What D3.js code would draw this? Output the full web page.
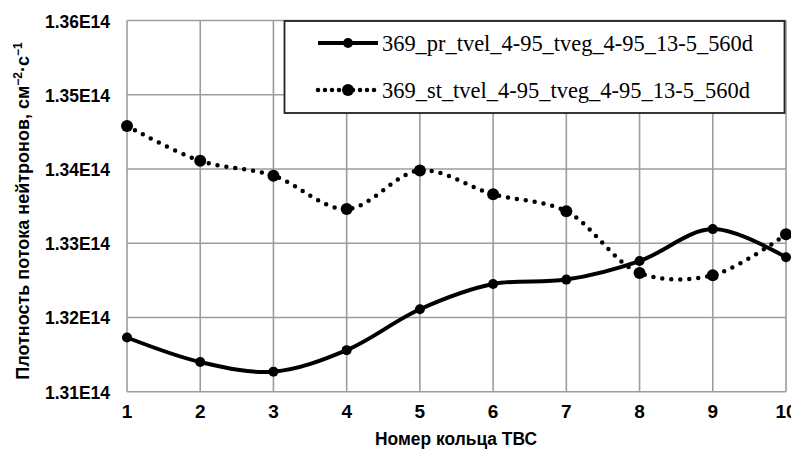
<!DOCTYPE html>
<html>
<head>
<meta charset="utf-8">
<style>
    body { margin: 0; background-color: #fff; }
    svg { display: block; background-color: #fff; }
    .tick-lbl { font-family: "Liberation Sans", Arial, sans-serif; font-weight: bold; font-size: 19px; fill: #000; }
    .ax-title { font-family: "Liberation Sans", Arial, sans-serif; font-weight: bold; font-size: 18px; fill: #000; }
    .leg-txt { font-family: "Liberation Serif", "Times New Roman", serif; font-size: 23px; fill: #000; }
</style>
<script src="https://cdnjs.cloudflare.com/ajax/libs/d3/7.8.5/d3.min.js"></script>
</head>
<body>
<svg id="chart" width="791" height="449"></svg>
<script>
    // ring numbers
    var rings = [1, 2, 3, 4, 5, 6, 7, 8, 9, 10];
    // flux density, units of 1E14
    var prValues = [1.3173, 1.3140, 1.3127, 1.3156, 1.3211, 1.3245, 1.3251, 1.3276, 1.3319, 1.3281];
    var stValues = [1.3458, 1.3411, 1.3391, 1.3346, 1.3398, 1.3366, 1.3343, 1.3260, 1.3257, 1.3312];
    var seriesNames = ["369_pr_tvel_4-95_tveg_4-95_13-5_560d", "369_st_tvel_4-95_tveg_4-95_13-5_560d"];
    var yTicks = [1.31, 1.32, 1.33, 1.34, 1.35, 1.36];
    var yTickLabels = ["1.31E14", "1.32E14", "1.33E14", "1.34E14", "1.35E14", "1.36E14"];

    var svg = d3.select("#chart");

    var x = d3.scaleLinear().domain([1, 10]).range([127, 786]);
    var y = d3.scaleLinear().domain([1.31, 1.36]).range([391.7, 20.5]);

    var gridColor = "#9d9d9d";

    // gridlines
    svg.append("g").selectAll("line.h").data(yTicks).enter().append("line")
        .attr("x1", x(1)).attr("x2", x(10))
        .attr("y1", function (d) { return y(d); })
        .attr("y2", function (d) { return y(d); })
        .attr("stroke", gridColor).attr("stroke-width", 1.6);
    svg.append("g").selectAll("line.v").data(rings).enter().append("line")
        .attr("y1", y(1.31)).attr("y2", y(1.36))
        .attr("x1", function (d) { return x(d); })
        .attr("x2", function (d) { return x(d); })
        .attr("stroke", gridColor).attr("stroke-width", 1.6);

    // tick labels
    svg.append("g").selectAll("text").data(yTicks).enter().append("text")
        .attr("class", "tick-lbl")
        .attr("x", 110)
        .attr("y", function (d) { return y(d) + 7; })
        .attr("text-anchor", "end")
        .attr("textLength", 65)
        .attr("lengthAdjust", "spacingAndGlyphs")
        .text(function (d, i) { return yTickLabels[i]; });
    svg.append("g").selectAll("text").data(rings).enter().append("text")
        .attr("class", "tick-lbl")
        .attr("x", function (d) { return x(d); })
        .attr("y", 418)
        .attr("text-anchor", "middle")
        .text(function (d) { return d; });

    // axis titles
    svg.append("text").attr("class", "ax-title")
        .attr("x", 456).attr("y", 445)
        .attr("text-anchor", "middle")
        .attr("textLength", 162)
        .attr("lengthAdjust", "spacingAndGlyphs")
        .text("Номер кольца ТВС");

    var yt = svg.append("text").attr("class", "ax-title")
        .attr("transform", "translate(29,211) rotate(-90)")
        .attr("text-anchor", "middle");
    yt.append("tspan").text("Плотность потока нейтронов, см");
    yt.append("tspan").attr("dy", -7).attr("font-size", 12).text("−2");
    yt.append("tspan").attr("dy", 7).text("·с");
    yt.append("tspan").attr("dy", -7).attr("font-size", 12).text("−1");

    // lines
    var line = d3.line()
        .x(function (d, i) { return x(rings[i]); })
        .y(function (d) { return y(d); })
        .curve(d3.curveCatmullRom.alpha(0.5));

    svg.append("path").datum(stValues)
        .attr("d", line)
        .attr("fill", "none").attr("stroke", "#000")
        .attr("stroke-width", 4.5)
        .attr("stroke-linecap", "round")
        .attr("stroke-dasharray", "0 9");
    svg.append("g").selectAll("circle").data(stValues).enter().append("circle")
        .attr("cx", function (d, i) { return x(rings[i]); })
        .attr("cy", function (d) { return y(d); })
        .attr("r", 6).attr("fill", "#000");

    svg.append("path").datum(prValues)
        .attr("d", line)
        .attr("fill", "none").attr("stroke", "#000")
        .attr("stroke-width", 4);
    svg.append("g").selectAll("circle").data(prValues).enter().append("circle")
        .attr("cx", function (d, i) { return x(rings[i]); })
        .attr("cy", function (d) { return y(d); })
        .attr("r", 5).attr("fill", "#000");

    // legend
    var leg = svg.append("g");
    leg.append("rect")
        .attr("x", 284.5).attr("y", 21).attr("width", 500).attr("height", 92)
        .attr("fill", "#fff").attr("stroke", "#222").attr("stroke-width", 1.8);

    var rowsY = [43, 90];
    leg.append("line").attr("x1", 318).attr("x2", 378).attr("y1", rowsY[0]).attr("y2", rowsY[0])
        .attr("stroke", "#000").attr("stroke-width", 4);
    leg.append("circle").attr("cx", 348).attr("cy", rowsY[0]).attr("r", 5).attr("fill", "#000");
    leg.append("line").attr("x1", 318).attr("x2", 378).attr("y1", rowsY[1]).attr("y2", rowsY[1])
        .attr("stroke", "#000").attr("stroke-width", 4.5)
        .attr("stroke-linecap", "round").attr("stroke-dasharray", "0 7");
    leg.append("circle").attr("cx", 348).attr("cy", rowsY[1]).attr("r", 6).attr("fill", "#000");

    leg.selectAll("text").data(seriesNames).enter().append("text")
        .attr("class", "leg-txt")
        .attr("x", 382)
        .attr("y", function (d, i) { return rowsY[i] + 8; })
        .attr("textLength", function (d, i) { return i === 0 ? 371 : 368; })
        .attr("lengthAdjust", "spacingAndGlyphs")
        .text(function (d) { return d; });
</script>
</body>
</html>
